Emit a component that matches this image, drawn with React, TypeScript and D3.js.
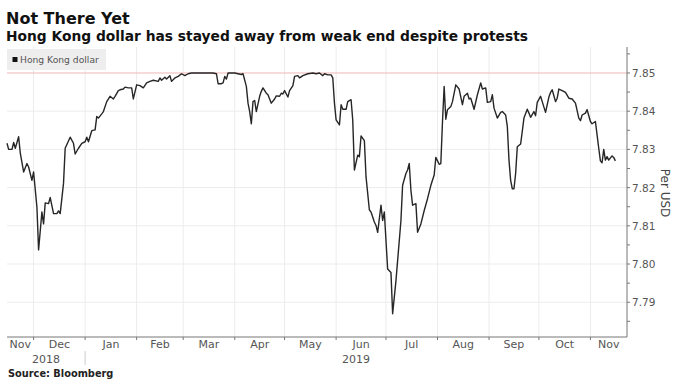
import React, { useEffect, useRef } from "react";
import * as d3 from "d3";

// HKD per USD
const dates = [
  "2018-11-15", "2018-11-16", "2018-11-18", "2018-11-19", "2018-11-20", "2018-11-22", "2018-11-23", "2018-11-25",
  "2018-11-27", "2018-11-28", "2018-11-30", "2018-12-01", "2018-12-03", "2018-12-04", "2018-12-06", "2018-12-07",
  "2018-12-08", "2018-12-10", "2018-12-11", "2018-12-13", "2018-12-15", "2018-12-16", "2018-12-17", "2018-12-19",
  "2018-12-20", "2018-12-23", "2018-12-25", "2018-12-26", "2018-12-28", "2018-12-30", "2019-01-01", "2019-01-02",
  "2019-01-03", "2019-01-05", "2019-01-07", "2019-01-08", "2019-01-09", "2019-01-11", "2019-01-12", "2019-01-14",
  "2019-01-16", "2019-01-18", "2019-01-19", "2019-01-21", "2019-01-22", "2019-01-24", "2019-01-25", "2019-01-27",
  "2019-01-29", "2019-01-30", "2019-02-01", "2019-02-03", "2019-02-05", "2019-02-07", "2019-02-09", "2019-02-11",
  "2019-02-14", "2019-02-15", "2019-02-16", "2019-02-18", "2019-02-19", "2019-02-21", "2019-02-22", "2019-02-24",
  "2019-02-26", "2019-02-28", "2019-03-02", "2019-03-04", "2019-03-06", "2019-03-09", "2019-03-12", "2019-03-15",
  "2019-03-17", "2019-03-19", "2019-03-21", "2019-03-22", "2019-03-24", "2019-03-25", "2019-03-26", "2019-03-27",
  "2019-03-28", "2019-03-30", "2019-04-01", "2019-04-03", "2019-04-05", "2019-04-06", "2019-04-08", "2019-04-09",
  "2019-04-10", "2019-04-11", "2019-04-12", "2019-04-13", "2019-04-14", "2019-04-16", "2019-04-17", "2019-04-18",
  "2019-04-20", "2019-04-21", "2019-04-23", "2019-04-25", "2019-04-26", "2019-04-28", "2019-04-29", "2019-04-30",
  "2019-05-01", "2019-05-03", "2019-05-04", "2019-05-06", "2019-05-07", "2019-05-09", "2019-05-10", "2019-05-12",
  "2019-05-15", "2019-05-18", "2019-05-20", "2019-05-22", "2019-05-24", "2019-05-25", "2019-05-27", "2019-05-29",
  "2019-05-30", "2019-05-31", "2019-06-01", "2019-06-03", "2019-06-04", "2019-06-05", "2019-06-07", "2019-06-08",
  "2019-06-10", "2019-06-11", "2019-06-12", "2019-06-14", "2019-06-15", "2019-06-16", "2019-06-18", "2019-06-19",
  "2019-06-21", "2019-06-22", "2019-06-24", "2019-06-25", "2019-06-26", "2019-06-28", "2019-06-29", "2019-06-30",
  "2019-07-02", "2019-07-04", "2019-07-05", "2019-07-07", "2019-07-08", "2019-07-10", "2019-07-11", "2019-07-13",
  "2019-07-14", "2019-07-15", "2019-07-16", "2019-07-17", "2019-07-19", "2019-07-20", "2019-07-22", "2019-07-24",
  "2019-07-26", "2019-07-28", "2019-07-30", "2019-07-31", "2019-08-02", "2019-08-03", "2019-08-04", "2019-08-05",
  "2019-08-06", "2019-08-07", "2019-08-09", "2019-08-10", "2019-08-12", "2019-08-14", "2019-08-16", "2019-08-17",
  "2019-08-19", "2019-08-20", "2019-08-21", "2019-08-23", "2019-08-25", "2019-08-27", "2019-08-28", "2019-08-30",
  "2019-08-31", "2019-09-02", "2019-09-03", "2019-09-04", "2019-09-06", "2019-09-08", "2019-09-09", "2019-09-11",
  "2019-09-12", "2019-09-13", "2019-09-14", "2019-09-15", "2019-09-16", "2019-09-17", "2019-09-18", "2019-09-20",
  "2019-09-21", "2019-09-22", "2019-09-24", "2019-09-25", "2019-09-26", "2019-09-28", "2019-09-29", "2019-09-30",
  "2019-10-02", "2019-10-03", "2019-10-05", "2019-10-07", "2019-10-08", "2019-10-09", "2019-10-11", "2019-10-12",
  "2019-10-13", "2019-10-15", "2019-10-17", "2019-10-19", "2019-10-21", "2019-10-23", "2019-10-25", "2019-10-26",
  "2019-10-27", "2019-10-29", "2019-10-30", "2019-10-31", "2019-11-01", "2019-11-02", "2019-11-04", "2019-11-05",
  "2019-11-06", "2019-11-07", "2019-11-08", "2019-11-09", "2019-11-10", "2019-11-11", "2019-11-12", "2019-11-14",
  "2019-11-15", "2019-11-16",
];

const hkd = [
  7.8316, 7.83, 7.83, 7.8318, 7.8303, 7.8333, 7.829, 7.8241,
  7.8263, 7.8254, 7.8219, 7.8241, 7.8149, 7.8037, 7.8136, 7.8105,
  7.816, 7.8158, 7.8174, 7.8132, 7.8132, 7.8139, 7.8132, 7.8211,
  7.8303, 7.8332, 7.8316, 7.8288, 7.8303, 7.8316, 7.832, 7.8332,
  7.832, 7.8349, 7.8351, 7.8386, 7.8382, 7.8393, 7.8399, 7.8425,
  7.8439, 7.8432, 7.8439, 7.8454, 7.8456, 7.8458, 7.8463, 7.8461,
  7.8461, 7.8432, 7.8469, 7.8467, 7.8461, 7.8474, 7.8478, 7.8481,
  7.8478, 7.8487, 7.8481, 7.8489, 7.8484, 7.8493, 7.8478, 7.8487,
  7.8491, 7.8498, 7.8493, 7.8498, 7.85, 7.85, 7.85, 7.85,
  7.85, 7.85, 7.8498, 7.8472, 7.8472, 7.8474, 7.8491, 7.8484,
  7.85, 7.85, 7.85, 7.8498, 7.8496, 7.8498, 7.8465, 7.8421,
  7.8399, 7.8367, 7.8425, 7.8428, 7.8399, 7.8439, 7.8452, 7.8461,
  7.8447, 7.8443, 7.8421, 7.8432, 7.844, 7.8439, 7.8447, 7.8445,
  7.8454, 7.8437, 7.8454, 7.8467, 7.8491, 7.8493, 7.8487, 7.8493,
  7.8498, 7.85, 7.8498, 7.85, 7.8493, 7.8498, 7.8495, 7.8495,
  7.8487, 7.8421, 7.8377, 7.8364, 7.8417, 7.8405, 7.8405, 7.8425,
  7.843, 7.8377, 7.8246, 7.8285, 7.8281, 7.8335, 7.8323, 7.8228,
  7.8142, 7.8136, 7.811, 7.8101, 7.8083, 7.8154, 7.8114, 7.8136,
  7.7987, 7.7978, 7.787, 7.7956, 7.8009, 7.8114, 7.8206, 7.8237,
  7.8246, 7.8263, 7.8193, 7.8154, 7.8158, 7.8083, 7.8105, 7.814,
  7.8171, 7.8206, 7.8233, 7.8279, 7.8261, 7.8263, 7.8373, 7.8465,
  7.8379, 7.8404, 7.8412, 7.8425, 7.8469, 7.8458, 7.8417, 7.8439,
  7.8447, 7.8432, 7.8434, 7.8405, 7.8443, 7.8474, 7.8458, 7.8461,
  7.8423, 7.8425, 7.8443, 7.8408, 7.8382, 7.8397, 7.8399, 7.839,
  7.836, 7.8272, 7.8219, 7.8197, 7.8197, 7.8237, 7.8307, 7.8314,
  7.8347, 7.8382, 7.8405, 7.8395, 7.8384, 7.8399, 7.8388, 7.8423,
  7.8439, 7.8425, 7.8397, 7.8437, 7.8449, 7.8456, 7.8425, 7.8434,
  7.8458, 7.8454, 7.8449, 7.8434, 7.8432, 7.8421, 7.8382, 7.8375,
  7.839, 7.8395, 7.8404, 7.8388, 7.8373, 7.8367, 7.8373, 7.8338,
  7.8303, 7.827, 7.8265, 7.83, 7.8272, 7.8281, 7.8272, 7.8283,
  7.8279, 7.827,
];

const yTicks = [7.79, 7.8, 7.81, 7.82, 7.83, 7.84, 7.85];
const monthLabels = ["Nov", "Dec", "Jan", "Feb", "Mar", "Apr", "May", "Jun", "Jul", "Aug", "Sep", "Oct", "Nov"];
const yearLabels = ["2018", "2019"];
const pegLevel = 7.85;

const FONT = "'DejaVu Sans', sans-serif";

export default function App() {
  const ref = useRef<SVGSVGElement>(null);

  useEffect(() => {
    const w = 680;
    const h = 386;
    const left = 7;
    const right = 627;
    const top = 47;
    const bottom = 337;

    const svg = d3.select(ref.current);
    svg.selectAll("*").remove();
    svg.attr("width", w).attr("height", h);

    const parse = d3.timeParse("%Y-%m-%d");
    const data = dates.map((d, i) => ({ date: parse(d) as Date, value: hkd[i] }));

    const start = new Date(2018, 10, 15);
    const end = new Date(2019, 10, 23);

    // x Scale
    const xScale = d3.scaleTime().domain([start, end]).range([left, right]);
    // y Scale
    const yScale = d3.scaleLinear().domain([7.7809, 7.8568]).range([bottom, top]);

    svg.append("rect").attr("width", w).attr("height", h).attr("fill", "#ffffff");

    // titles
    svg
      .append("text")
      .attr("x", 6)
      .attr("y", 24)
      .attr("font-family", FONT)
      .attr("font-weight", "bold")
      .attr("font-size", 16)
      .attr("fill", "#111")
      .text("Not There Yet");

    svg
      .append("text")
      .attr("x", 6)
      .attr("y", 41)
      .attr("font-family", FONT)
      .attr("font-weight", "bold")
      .attr("font-size", 13.8)
      .attr("fill", "#111")
      .text("Hong Kong dollar has stayed away from weak end despite protests");

    // month boundaries
    const months = d3.timeMonth.range(d3.timeMonth.ceil(start), end);

    // horizontal grid
    svg
      .append("g")
      .selectAll("line")
      .data(yTicks.filter((t) => t !== pegLevel))
      .join("line")
      .attr("x1", left)
      .attr("x2", right)
      .attr("y1", (d) => yScale(d))
      .attr("y2", (d) => yScale(d))
      .attr("stroke", "#ececec")
      .attr("stroke-width", 1);

    // vertical grid
    svg
      .append("g")
      .selectAll("line")
      .data(months)
      .join("line")
      .attr("x1", (d) => xScale(d))
      .attr("x2", (d) => xScale(d))
      .attr("y1", top)
      .attr("y2", bottom)
      .attr("stroke", "#ececec")
      .attr("stroke-width", 1);

    // peg line at 7.85
    svg
      .append("line")
      .attr("x1", left)
      .attr("x2", right)
      .attr("y1", yScale(pegLevel))
      .attr("y2", yScale(pegLevel))
      .attr("stroke", "#f2b8b8")
      .attr("stroke-width", 1);

    // legend
    svg.append("rect").attr("x", 7).attr("y", 49).attr("width", 99).attr("height", 21).attr("fill", "#eeeeee");
    svg.append("rect").attr("x", 12.5).attr("y", 57).attr("width", 5).attr("height", 5).attr("fill", "#111");
    svg
      .append("text")
      .attr("x", 20)
      .attr("y", 63)
      .attr("font-family", FONT)
      .attr("font-size", 9.2)
      .attr("fill", "#555")
      .text("Hong Kong dollar");

    // line
    const line = d3
      .line<{ date: Date; value: number }>()
      .x((d) => xScale(d.date))
      .y((d) => yScale(d.value));

    svg
      .append("path")
      .attr("d", line(data))
      .attr("fill", "none")
      .attr("stroke", "#262626")
      .attr("stroke-width", 1.4)
      .attr("stroke-linejoin", "round");

    // right axis
    svg.append("line").attr("x1", right).attr("x2", right).attr("y1", top).attr("y2", bottom).attr("stroke", "#777");

    const minor = d3.range(7.785, 7.8551, 0.005);
    svg
      .append("g")
      .selectAll("line")
      .data(minor)
      .join("line")
      .attr("x1", right)
      .attr("x2", right + 3)
      .attr("y1", (d) => yScale(d))
      .attr("y2", (d) => yScale(d))
      .attr("stroke", "#777");

    svg
      .append("g")
      .selectAll("text")
      .data(yTicks)
      .join("text")
      .attr("x", right + 5)
      .attr("y", (d) => yScale(d) + 4)
      .attr("font-family", FONT)
      .attr("font-size", 10.5)
      .attr("fill", "#555")
      .text((d) => d3.format(".2f")(d));

    svg
      .append("text")
      .attr("transform", `translate(661, 193) rotate(90)`)
      .attr("text-anchor", "middle")
      .attr("font-family", FONT)
      .attr("font-size", 12)
      .attr("fill", "#444")
      .text("Per USD");

    // bottom axis
    svg.append("line").attr("x1", left).attr("x2", right).attr("y1", bottom).attr("y2", bottom).attr("stroke", "#777");

    svg
      .append("g")
      .selectAll("line")
      .data(months)
      .join("line")
      .attr("x1", (d) => xScale(d))
      .attr("x2", (d) => xScale(d))
      .attr("y1", bottom)
      .attr("y2", bottom + 3)
      .attr("stroke", "#777");

    const spans = [start, ...months].map((m) => {
      const a = m < start ? start : m;
      const next = d3.timeMonth.offset(d3.timeMonth.floor(m), 1);
      const b = next > end ? end : next;
      return (xScale(a) + xScale(b)) / 2;
    });

    svg
      .append("g")
      .selectAll("text")
      .data(monthLabels)
      .join("text")
      .attr("x", (d, i) => spans[i])
      .attr("y", 348)
      .attr("text-anchor", "middle")
      .attr("font-family", FONT)
      .attr("font-size", 11)
      .attr("fill", "#555")
      .text((d) => d);

    const jan = new Date(2019, 0, 1);
    const yearCenters = [(xScale(start) + xScale(jan)) / 2, (xScale(jan) + xScale(end)) / 2];
    svg
      .append("g")
      .selectAll("text")
      .data(yearLabels)
      .join("text")
      .attr("x", (d, i) => yearCenters[i])
      .attr("y", 363)
      .attr("text-anchor", "middle")
      .attr("font-family", FONT)
      .attr("font-size", 11)
      .attr("fill", "#555")
      .text((d) => d);

    svg
      .append("line")
      .attr("x1", xScale(jan))
      .attr("x2", xScale(jan))
      .attr("y1", 351)
      .attr("y2", 365)
      .attr("stroke", "#ccc");

    // source
    svg
      .append("text")
      .attr("x", 8)
      .attr("y", 377)
      .attr("font-family", FONT)
      .attr("font-weight", "bold")
      .attr("font-size", 9.8)
      .attr("fill", "#222")
      .text("Source: Bloomberg");
  }, []);

  return (
    <div style={{ position: "absolute", left: 0, top: 0 }}>
      <svg ref={ref} />
    </div>
  );
}
